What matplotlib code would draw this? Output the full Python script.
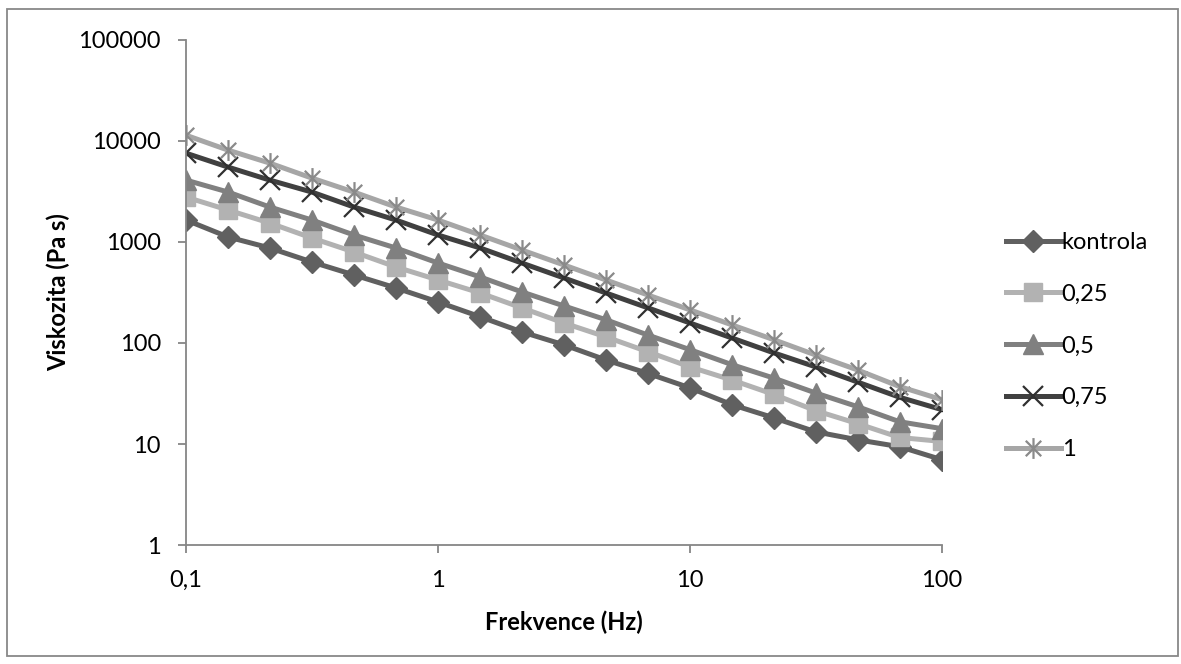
import numpy as np
import matplotlib
matplotlib.use("Agg")
import matplotlib.pyplot as plt
from matplotlib.path import Path
from matplotlib.patches import Rectangle
from matplotlib.ticker import FixedLocator, FixedFormatter, NullLocator

plt.rcParams['font.family'] = ['Lato', 'DejaVu Sans']

# frekvence (Hz)
freq = [0.1, 0.147, 0.215, 0.316, 0.464, 0.681, 1, 1.47, 2.15, 3.16,
        4.64, 6.81, 10, 14.7, 21.5, 31.6, 46.4, 68.1, 100]

# viskozita (Pa s)
kontrola = [1650, 1120, 873, 634, 472, 351, 255, 182, 129, 96,
            68, 50, 36, 24.5, 18.2, 13.2, 11.0, 9.4, 7.0]
c025 = [2785, 2070, 1540, 1095, 796, 566, 421, 313, 223, 158,
        115, 82, 58, 43, 31, 21.4, 15.9, 11.6, 10.6]
c05 = [4100, 3120, 2220, 1650, 1173, 873, 620, 451, 321, 233,
       170, 120, 86, 61, 45, 32, 23.4, 16.6, 14.2]
c075 = [7570, 5510, 4100, 3120, 2220, 1650, 1173, 873, 620, 441,
        313, 223, 158, 112, 80, 58, 41, 29, 21.9]
c1 = [11400, 8110, 6040, 4290, 3120, 2220, 1650, 1173, 834, 593,
      421, 299, 213, 151, 108, 76, 54, 37, 27.5]

labels = ['kontrola', '0,25', '0,5', '0,75', '1']
xticks = [0.1, 1, 10, 100]
xticklabels = ['0,1', '1', '10', '100']
yticks = [1, 10, 100, 1000, 10000, 100000]
yticklabels = ['1', '10', '100', '1000', '10000', '100000']

# star marker like excel (x + vertical line)
star = Path([(-1, -1), (1, 1), (-1, 1), (1, -1), (0, -1.35), (0, 1.35)],
            [Path.MOVETO, Path.LINETO, Path.MOVETO, Path.LINETO,
             Path.MOVETO, Path.LINETO])

fig = plt.figure(figsize=(11.81, 6.64), dpi=100)
ax = fig.add_axes([0.1575, 0.1792, 0.7974 - 0.1575, 0.9398 - 0.1792])

lw = 3.6
ax.plot(freq, kontrola, color='#606060', lw=lw, marker='D', ms=11,
        mfc='#606060', mec='#606060', label=labels[0])
ax.plot(freq, c025, color='#b2b2b2', lw=lw, marker='s', ms=13.5,
        mfc='#b2b2b2', mec='#b2b2b2', label=labels[1])
ax.plot(freq, c05, color='#808080', lw=lw, marker='^', ms=14.5,
        mfc='#808080', mec='#808080', label=labels[2])
ax.plot(freq, c075, color='#404040', lw=lw, marker='x', ms=14,
        mec='#303030', mew=1.6, label=labels[3])
ax.plot(freq, c1, color='#a6a6a6', lw=lw, marker=star, ms=15,
        mec='#8a8a8a', mew=1.6, label=labels[4])

ax.set_xscale('log')
ax.set_yscale('log')
ax.set_xlim(0.1, 100)
ax.set_ylim(1, 100000)

ax.xaxis.set_major_locator(FixedLocator(xticks))
ax.xaxis.set_major_formatter(FixedFormatter(xticklabels))
ax.xaxis.set_minor_locator(NullLocator())
ax.yaxis.set_major_locator(FixedLocator(yticks))
ax.yaxis.set_major_formatter(FixedFormatter(yticklabels))
ax.yaxis.set_minor_locator(NullLocator())

for s in ['top', 'right']:
    ax.spines[s].set_visible(False)
for s in ['left', 'bottom']:
    ax.spines[s].set_color('#868686')
    ax.spines[s].set_linewidth(1.3)
ax.tick_params(axis='both', colors='#868686', length=6, width=1.3,
               labelsize=17, labelcolor='black')
ax.tick_params(axis='y', pad=12)
ax.tick_params(axis='x', pad=12)

ax.set_xlabel('Frekvence (Hz)', fontsize=17, fontweight='bold', labelpad=14)
ax.set_ylabel('Viskozita (Pa s)', fontsize=17, fontweight='bold', labelpad=6)

leg = fig.legend(loc='center left', bbox_to_anchor=(0.842, 0.479),
                 frameon=False, fontsize=17, handlelength=2.3,
                 handletextpad=0.05, labelspacing=1.3, borderpad=0)

# outer chart border
fig.patches.append(Rectangle((0.006, 0.012), 0.9915, 0.9744,
                             transform=fig.transFigure, fill=False,
                             edgecolor='#888888', lw=1.3))

fig.savefig('out.png', dpi=100)
